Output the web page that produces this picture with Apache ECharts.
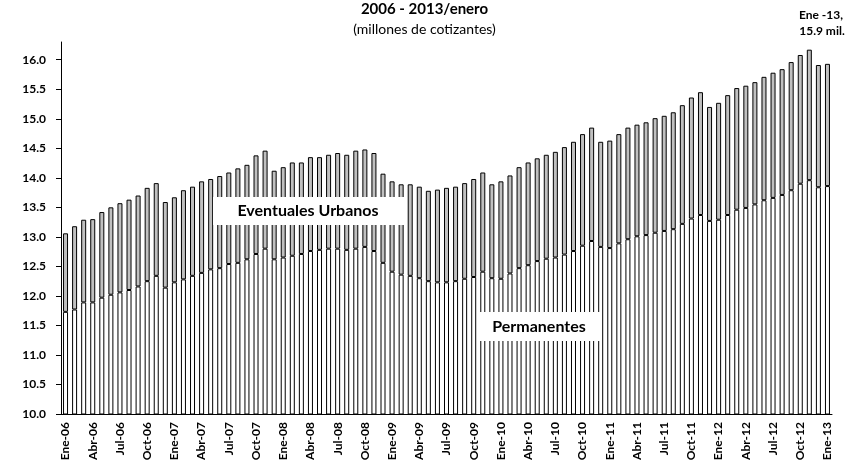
<!DOCTYPE html>
<html>
<head>
<meta charset="utf-8">
<title>Cotizantes 2006 - 2013/enero</title>
<script src="https://cdn.jsdelivr.net/npm/echarts@6/dist/echarts.min.js"></script>
<style>
  html, body { margin: 0; padding: 0; background: #fff; }
  #main { width: 849px; height: 466px; }
</style>
</head>
<body>
<div id="main"></div>
<script>
// categorias: Ene-06 ... Ene-13 (85 meses)
var meses = ['Ene', 'Feb', 'Mar', 'Abr', 'May', 'Jun', 'Jul', 'Ago', 'Sep', 'Oct', 'Nov', 'Dic'];
var anios = ['06', '07', '08', '09', '10', '11', '12', '13'];
var categorias = [];
anios.forEach(function (a) {
  meses.forEach(function (m) {
    if (categorias.length < 85) categorias.push(m + '-' + a);
  });
});

// millones de cotizantes
var permanentes = [
  11.73, 11.77, 11.89, 11.89, 11.97, 12.02, 12.06, 12.10, 12.16, 12.25, 12.34, 12.14,
  12.23, 12.28, 12.34, 12.39, 12.45, 12.47, 12.54, 12.56, 12.62, 12.71, 12.80, 12.62,
  12.65, 12.68, 12.71, 12.76, 12.78, 12.80, 12.80, 12.78, 12.80, 12.83, 12.76, 12.56,
  12.41, 12.36, 12.34, 12.30, 12.25, 12.23, 12.23, 12.25, 12.29, 12.32, 12.41, 12.30,
  12.29, 12.38, 12.47, 12.52, 12.59, 12.63, 12.65, 12.70, 12.76, 12.85, 12.93, 12.83,
  12.81, 12.89, 12.96, 13.01, 13.03, 13.07, 13.10, 13.13, 13.22, 13.31, 13.37, 13.27,
  13.29, 13.37, 13.46, 13.49, 13.55, 13.62, 13.66, 13.71, 13.79, 13.90, 13.96, 13.84,
  13.86
];
var eventuales = [
  1.33, 1.41, 1.40, 1.41, 1.45, 1.48, 1.51, 1.53, 1.54, 1.58, 1.57, 1.45,
  1.44, 1.51, 1.51, 1.55, 1.53, 1.56, 1.55, 1.60, 1.60, 1.67, 1.66, 1.50,
  1.53, 1.58, 1.55, 1.59, 1.57, 1.59, 1.62, 1.61, 1.66, 1.65, 1.66, 1.51,
  1.53, 1.53, 1.55, 1.55, 1.53, 1.57, 1.60, 1.60, 1.62, 1.66, 1.68, 1.59,
  1.65, 1.66, 1.71, 1.74, 1.74, 1.76, 1.79, 1.82, 1.85, 1.89, 1.92, 1.78,
  1.82, 1.85, 1.89, 1.89, 1.91, 1.94, 1.95, 1.98, 2.01, 2.05, 2.08, 1.93,
  1.98, 2.03, 2.06, 2.07, 2.07, 2.09, 2.12, 2.13, 2.17, 2.18, 2.21, 2.07,
  2.07
];
var yTicks = [10.0, 10.5, 11.0, 11.5, 12.0, 12.5, 13.0, 13.5, 14.0, 14.5, 15.0, 15.5, 16.0];

var fuente = 'Lato, "Open Sans", sans-serif';
var chart = echarts.init(document.getElementById('main'));

var option = {
  animation: false,
  textStyle: { fontFamily: fuente },
  title: {
    text: '2006 - 2013/enero',
    subtext: '(millones de cotizantes)',
    left: 'center',
    top: -3,
    itemGap: 5,
    textStyle: { fontSize: 15, fontWeight: 'bold', color: '#000', fontFamily: fuente },
    subtextStyle: { fontSize: 14, color: '#000', fontFamily: fuente }
  },
  grid: { left: 61, right: 17, top: 42, bottom: 52 },
  xAxis: {
    type: 'category',
    data: categorias,
    axisLine: { lineStyle: { color: '#000', width: 1 } },
    axisTick: { interval: 2, length: 4, lineStyle: { color: '#000' } },
    axisLabel: {
      interval: 2, rotate: 90, margin: 8,
      fontSize: 12, fontWeight: 'bold', color: '#000'
    }
  },
  yAxis: {
    type: 'value',
    min: 10,
    max: 16.3,
    axisLine: { show: true, lineStyle: { color: '#000', width: 1 } },
    axisTick: { show: true, length: 5, customValues: yTicks, lineStyle: { color: '#000' } },
    splitLine: { show: false },
    axisLabel: {
      customValues: yTicks, margin: 15,
      fontSize: 12, fontWeight: 'bold', color: '#000',
      formatter: function (v) { return v.toFixed(1); }
    }
  },
  series: [
    {
      name: 'Permanentes', type: 'bar', stack: 'total', data: permanentes, barWidth: 5,
      itemStyle: { color: '#fff', borderColor: '#000', borderWidth: 1 }
    },
    {
      name: 'Eventuales Urbanos', type: 'bar', stack: 'total', data: eventuales, barWidth: 5,
      itemStyle: { color: '#c0c0c0', borderColor: '#000', borderWidth: 1 }
    }
  ],
  graphic: [
    // etiquetas de las series
    { type: 'rect', z: 100, shape: { x: 213, y: 197, width: 191, height: 28 }, style: { fill: '#fff' } },
    { type: 'text', z: 101, x: 308, y: 211, style: { text: 'Eventuales Urbanos', fill: '#000', font: 'bold 16px ' + fuente, align: 'center', verticalAlign: 'middle' } },
    { type: 'rect', z: 100, shape: { x: 477, y: 312, width: 123, height: 29 }, style: { fill: '#fff' } },
    { type: 'text', z: 101, x: 539, y: 327, style: { text: 'Permanentes', fill: '#000', font: 'bold 16px ' + fuente, align: 'center', verticalAlign: 'middle' } },
    // nota del ultimo dato
    { type: 'text', z: 101, x: 821, y: 15, style: { text: 'Ene -13,', fill: '#000', font: 'bold 12px ' + fuente, align: 'center', verticalAlign: 'middle' } },
    { type: 'text', z: 101, x: 822, y: 31, style: { text: '15.9 mil.', fill: '#000', font: 'bold 12px ' + fuente, align: 'center', verticalAlign: 'middle' } }
  ]
};

chart.setOption(option);
</script>
</body>
</html>
